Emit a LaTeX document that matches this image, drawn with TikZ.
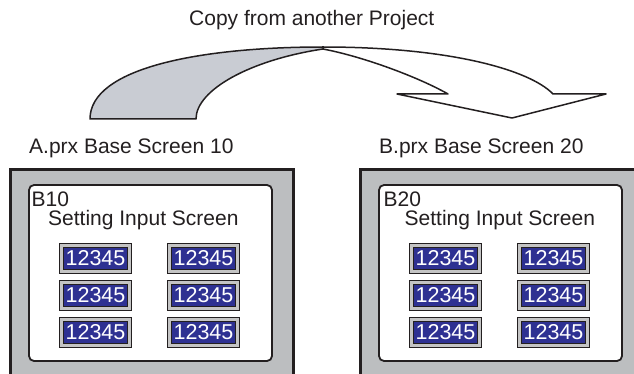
\documentclass[tikz,border=0pt]{standalone}
\usepackage{fontspec}
\setmainfont{Liberation Sans}
\usepackage{xcolor}
\usetikzlibrary{calc}

\definecolor{framegray}{HTML}{BCBEC0}
\definecolor{arrowgray}{HTML}{C9CCD3}
\definecolor{fieldblue}{HTML}{2E3192}
\definecolor{bevelgray}{HTML}{C4C4C4}
\definecolor{inkgray}{HTML}{231F20}

\begin{document}
\begin{tikzpicture}[x=1pt,y=-1pt,
		label text/.style={font=\fontsize{21}{24}\selectfont, text=inkgray, inner sep=0pt, anchor=base west},
		field/.style={draw=inkgray, line width=0.8pt, double=bevelgray, double distance=3pt,
			fill=fieldblue, text=white, inner sep=0pt, minimum width=68.4, minimum height=26.4,
			font=\fontsize{21.5}{24}\selectfont}]
			\def\colstep{108}
			\def\rowstep{37}

			\useasboundingbox (0,0) rectangle (634,374);
			\clip (0,0) rectangle (634,374);

			\node[label text] (copy note) at (189,26) {Copy from another Project};

			% the bent arrow
			\coordinate (outer start) at (90,119);
			\coordinate (outer top) at (323,47);
			\coordinate (inner start) at (196,119);
			\coordinate (twist) at (323,49);
			\coordinate (outer end) at (553,94);
			\coordinate (inner end) at (448,94);
			\coordinate (barb right) at (606,94);
			\coordinate (barb left) at (397,94);
			\coordinate (tip) at (512,118);

			\begin{scope}[draw=inkgray, line width=1.5pt, line join=round]
				\filldraw[fill=arrowgray] (outer start) .. controls (90,68) and (200,47) .. (outer top)
					-- (twist) .. controls (250,60) and (196,90) .. (inner start) -- cycle;
				\draw (outer top) .. controls (450,47) and (530,70) .. (outer end) -- (barb right)
					-- (tip) -- (barb left) -- (inner end) .. controls (420,78) and (365,57) .. (twist);
			\end{scope}

			% the two base screens
			\foreach \s/\prj/\scr/\idx/\capx in {0/A/10/31.5/48, 350/B/20/33.5/54.5}
			{
				\begin{scope}[shift={(\s,0)}]
					\filldraw[draw=inkgray, fill=framegray, line width=3pt] (10,170) rectangle (293,400);
					\filldraw[draw=inkgray, fill=white, line width=1.8pt, rounded corners=5pt] (29,185) rectangle (272,361);

					\node[label text] (title \prj) at (29,153.5) {\prj.prx Base Screen \scr};
					\node[label text] (id \prj) at (\idx,207) {B\scr};
					\node[label text] (caption \prj) at (\capx,225) {Setting Input Screen};

					\foreach \c in {0,1}
					{
						\foreach \r in {0,1,2}
						{
							\node[field] (field \prj\r\c) at (95.5+\c*\colstep, 258.5+\r*\rowstep) {12345};
						}
					}
				\end{scope}
			}
		\end{tikzpicture}
\end{document}
